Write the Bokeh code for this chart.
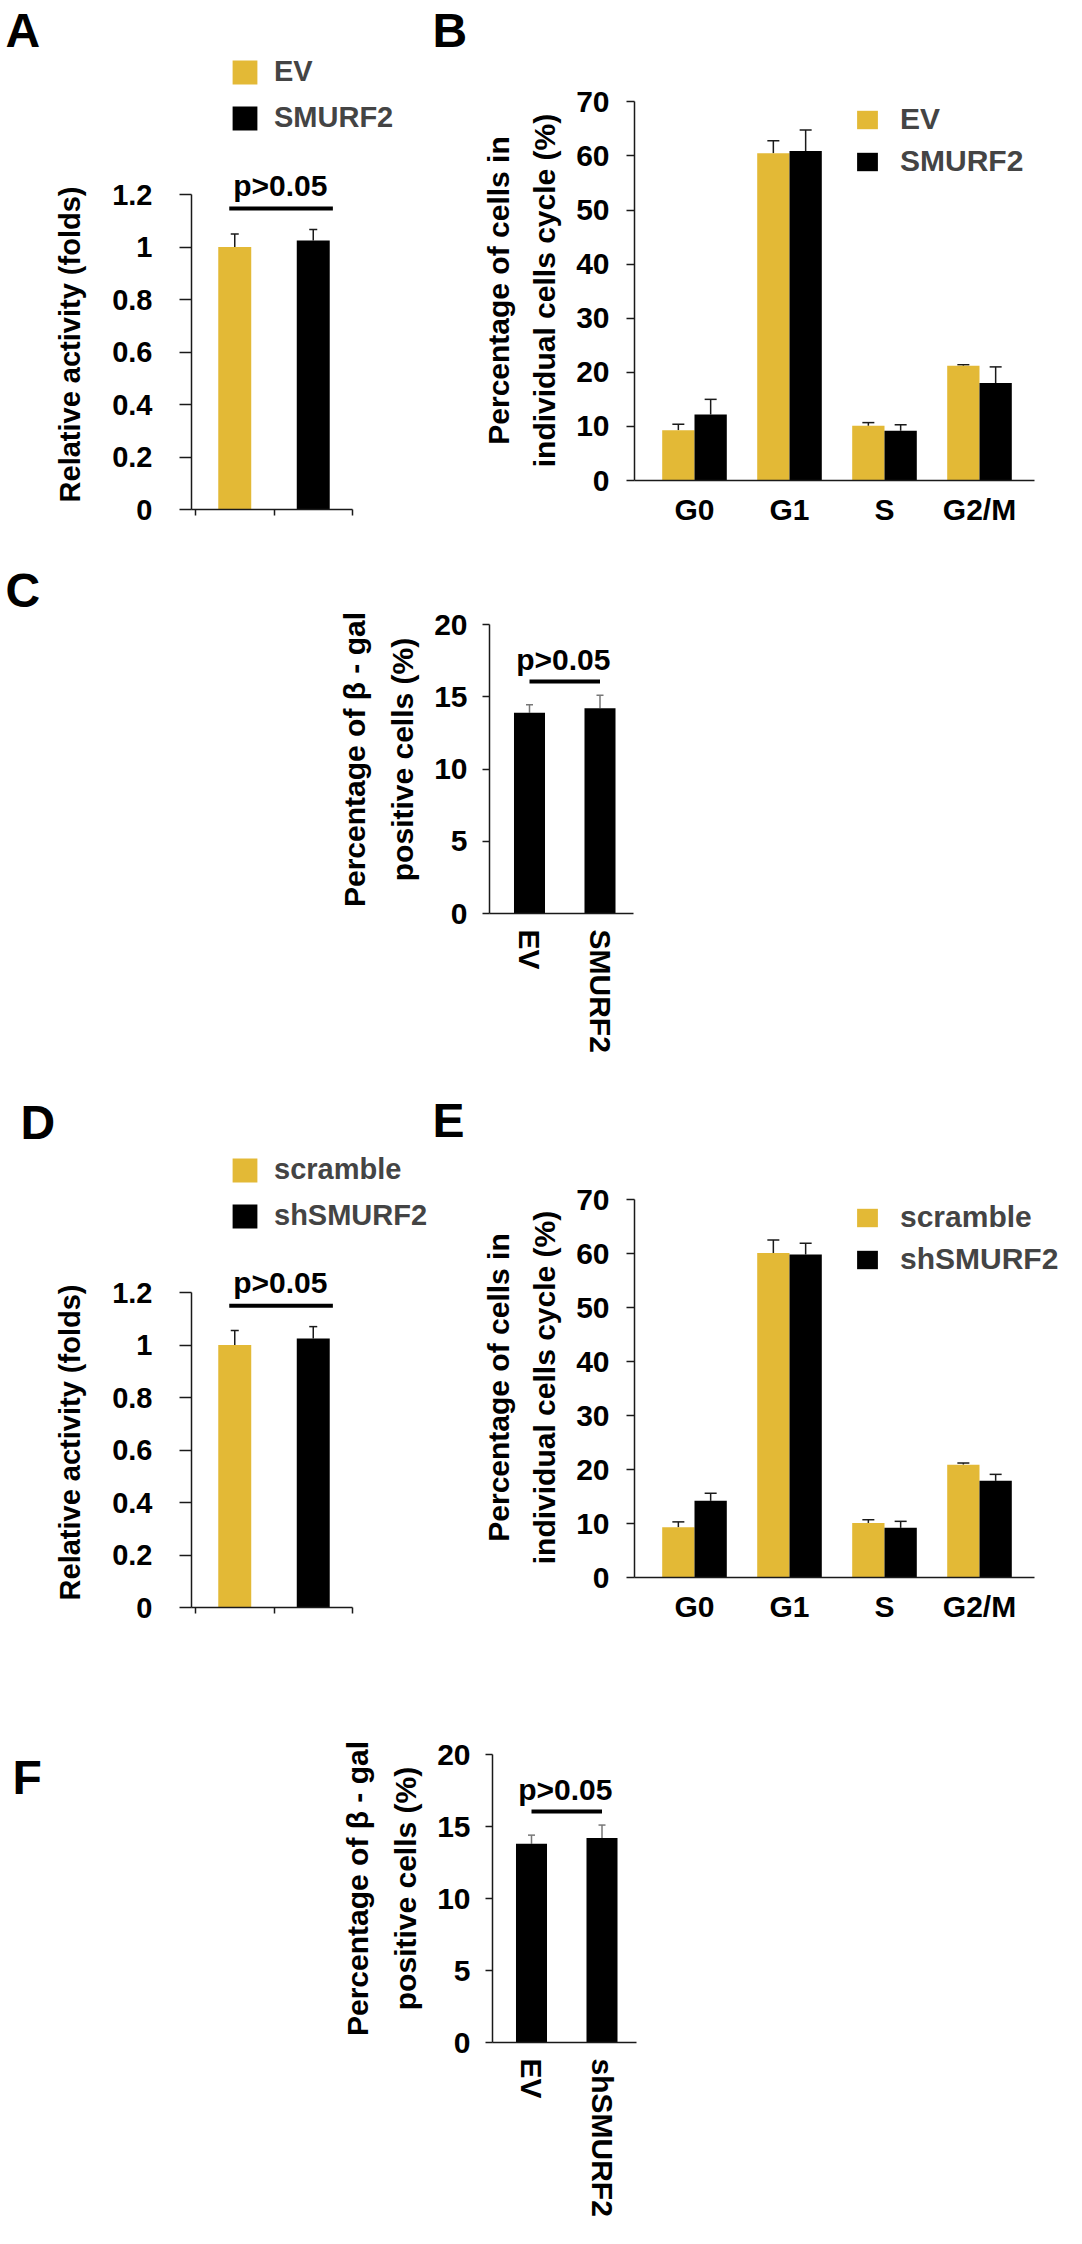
import numpy as np
from bokeh.plotting import figure
from bokeh.layouts import column, row
from bokeh.models import (ColumnDataSource, Range1d, FixedTicker, Legend, LegendItem,
                          Label, Whisker, TeeHead, PrintfTickFormatter)
from bokeh.embed import file_html
from bokeh.resources import INLINE

FONT = "Liberation Sans"
GOLD = "#E3B936"

# ---- data ----
# A: luciferase activity, overexpression
a_groups = ["EV", "SMURF2"]
a_vals = [1.0, 1.025]
a_err = [0.05, 0.042]
a_ticks = [0, 0.2, 0.4, 0.6, 0.8, 1.0, 1.2]

# B: cell cycle, overexpression
phases = ["G0", "G1", "S", "G2/M"]
b_ev = [9.3, 60.5, 10.1, 21.2]
b_ev_err = [1.1, 2.3, 0.6, 0.2]
b_sm = [12.2, 60.9, 9.2, 18.0]
b_sm_err = [2.8, 3.9, 1.1, 3.0]
b_ticks = [0, 10, 20, 30, 40, 50, 60, 70]

# C: beta-gal positive cells, overexpression
c_groups = ["EV", "SMURF2"]
c_vals = [13.9, 14.2]
c_err = [0.55, 0.9]
c_ticks = [0, 5, 10, 15, 20]

# D: luciferase activity, knockdown
d_groups = ["scramble", "shSMURF2"]
d_vals = [1.0, 1.025]
d_err = [0.055, 0.045]

# E: cell cycle, knockdown
e_sc = [9.3, 60.1, 10.1, 20.9]
e_sc_err = [1.0, 2.4, 0.6, 0.3]
e_sh = [14.2, 59.8, 9.2, 17.9]
e_sh_err = [1.4, 2.1, 1.2, 1.2]

# F: beta-gal positive cells, knockdown
f_groups = ["EV", "shSMURF2"]
f_vals = [13.8, 14.2]
f_err = [0.6, 0.9]

P_TEXT = "p>0.05"
BASE_FIX = 0.25   # bokeh sets alphabetic text a little low, lift it by this many em


class Panel:
    # figure whose frame is the whole canvas; cx, cy, x0, y0 are page pixels
    def __init__(self, cx, cy, w, h, x0, xpx, y0, ypx, tick_size):
        self.cx, self.cy, self.w, self.h = cx, cy, w, h
        self.x0, self.xpx, self.y0, self.ypx = x0, xpx, y0, ypx
        p = figure(width=w, height=h,
                   x_range=Range1d((cx - x0) / xpx, (cx + w - x0) / xpx),
                   y_range=Range1d((y0 - cy - h) / ypx, (y0 - cy) / ypx),
                   min_border=0, output_backend="svg", toolbar_location=None)
        p.outline_line_color = None
        p.grid.grid_line_color = None
        for ax in (p.xaxis[0], p.yaxis[0]):
            ax.axis_line_color = "#1a1a1a"
            ax.axis_line_width = 1.5
            ax.major_tick_line_color = "#1a1a1a"
            ax.major_tick_line_width = 1.5
            ax.minor_tick_line_color = None
            ax.major_tick_in = 0
            ax.major_label_text_font = FONT
            ax.major_label_text_font_style = "bold"
            ax.major_label_text_font_size = tick_size
            ax.major_label_text_color = "black"
        p.xaxis.fixed_location = 0
        self.p = p

    def dx(self, px):
        return (px - self.x0) / self.xpx

    def text(self, txt, px, py, size, angle=0.0, align="left", baseline="alphabetic"):
        # px, py: page position
        self.p.add_layout(Label(x=px - self.cx, y=self.cy + self.h - py,
                                x_units="screen", y_units="screen", text=txt, angle=angle,
                                text_font=FONT, text_font_style="bold",
                                text_font_size="%dpx" % size,
                                text_align=align, text_baseline=baseline, text_color="black"))

    def letter(self, txt, px, py, size=48):
        self.text(txt, px, py - BASE_FIX * size, size)

    def vlabel(self, txt, px, py, size):
        self.text(txt, px, py, size, angle=np.pi / 2, align="center", baseline="middle")

    def data_text(self, txt, x, y, size):
        y = y + BASE_FIX * size / self.ypx
        self.p.add_layout(Label(x=x, y=y, text=txt, text_font=FONT, text_font_style="bold",
                                text_font_size="%dpx" % size, text_align="center",
                                text_baseline="alphabetic", text_color="black"))

    def legend(self, items, left, top, gw, gh, spacing, standoff, size, item_h):
        box_h = 2 * item_h + spacing
        leg = Legend(items=[LegendItem(label=l, renderers=[r]) for l, r in items],
                     location=(left - self.cx, self.cy + self.h - top - box_h),
                     glyph_width=gw, glyph_height=gh, spacing=spacing,
                     label_standoff=standoff, padding=0, margin=0, border_line_color=None,
                     background_fill_alpha=0, label_text_font=FONT,
                     label_text_font_style="bold", label_text_font_size="%dpx" % size,
                     label_height=gh)
        self.p.add_layout(leg)


def add_bars(p, xs, vals, errs, color, width, err_color, cap):
    src = ColumnDataSource(dict(x=xs, top=vals, upper=np.add(vals, errs)))
    r = p.vbar(x="x", top="top", bottom=0, width=width, source=src,
               fill_color=color, line_color=None)
    p.add_layout(Whisker(source=src, base="x", lower="top", upper="upper",
                         line_color=err_color, line_width=1.5, lower_head=None,
                         upper_head=TeeHead(size=cap, line_color=err_color, line_width=1.5)))
    return r


def activity_panel(cy, h, y0, groups, vals, errs, letter, letter_pos, leg_top):
    P = Panel(8, cy, 430, h, 203, 78.5, y0, 262.5, "29px")
    p = P.p
    idx = np.arange(len(groups)) + 0.5
    r1 = add_bars(p, idx[:1], vals[:1], errs[:1], GOLD, 0.42, "#1a1a1a", 8)
    r2 = add_bars(p, idx[1:], vals[1:], errs[1:], "black", 0.42, "#1a1a1a", 8)
    p.yaxis.fixed_location = P.dx(199)
    p.yaxis.ticker = FixedTicker(ticks=a_ticks)
    p.yaxis.formatter = PrintfTickFormatter(format="%g")
    p.yaxis.bounds = (0, a_ticks[-1])
    p.yaxis.major_tick_out = 12
    p.yaxis.major_label_standoff = 27
    # category boundary ticks, no labels
    p.xaxis.ticker = FixedTicker(ticks=[], minor_ticks=list(range(len(groups) + 1)))
    p.xaxis.minor_tick_line_color = "#1a1a1a"
    p.xaxis.minor_tick_line_width = 1.5
    p.xaxis.minor_tick_in = 0
    p.xaxis.minor_tick_out = 6
    p.xaxis.bounds = (P.dx(199), len(groups))
    top = max(np.add(vals, errs))
    p.segment(x0=[0.43], x1=[1.75], y0=[top + 0.08], y1=[top + 0.08],
              line_color="black", line_width=4)
    P.data_text(P_TEXT, 1.08, top + 0.14, 30)
    P.legend([(groups[0], r1), (groups[1], r2)], 237, leg_top, 31, 30, 13, 14, 29, 32)
    P.letter(letter, letter_pos[0], letter_pos[1])
    P.vlabel("Relative activity (folds)", 77, y0 - 165, 29)
    return p


def cycle_panel(cy, h, y0, ypx, a, a_err_, b, b_err_, labels, letter, letter_pos, leg_top):
    P = Panel(438, cy, 636, h, 702, 95, y0, ypx, "30px")
    p = P.p
    idx = np.arange(len(phases))
    bw = 0.34
    r1 = add_bars(p, idx - bw / 2, a, a_err_, GOLD, bw, "#1a1a1a", 12)
    r2 = add_bars(p, idx + bw / 2, b, b_err_, "black", bw, "#1a1a1a", 12)
    p.yaxis.fixed_location = P.dx(642)
    p.yaxis.ticker = FixedTicker(ticks=b_ticks)
    p.yaxis.bounds = (0, b_ticks[-1])
    p.yaxis.major_tick_out = 8
    p.yaxis.major_label_standoff = 17
    p.xaxis.ticker = FixedTicker(ticks=list(idx))
    p.xaxis.major_label_overrides = {int(i): s for i, s in zip(idx, phases)}
    p.xaxis.major_tick_line_color = None
    p.xaxis.major_label_standoff = 6
    p.xaxis.bounds = (P.dx(642), P.dx(1042))
    P.legend([(labels[0], r1), (labels[1], r2)], 862, leg_top, 26, 23, 8, 20, 30, 34)
    P.letter(letter, letter_pos[0], letter_pos[1])
    P.vlabel("Percentage of cells in", 506, y0 - 190, 30)
    P.vlabel("individual cells cycle (%)", 552, y0 - 190, 30)
    return p


def gal_panel(cy, h, axis_x, x0, y0, ypx, groups, vals, errs, letter, letter_pos):
    P = Panel(8, cy, 700, h, x0, 70.5, y0, ypx, "30px")
    p = P.p
    idx = np.arange(len(groups))
    add_bars(p, idx, vals, errs, "black", 0.44, "#777777", 7)
    p.yaxis.fixed_location = P.dx(axis_x)
    p.yaxis.ticker = FixedTicker(ticks=c_ticks)
    p.yaxis.bounds = (0, c_ticks[-1])
    p.yaxis.major_tick_out = 7
    p.yaxis.major_label_standoff = 15
    p.xaxis.ticker = FixedTicker(ticks=list(idx))
    p.xaxis.major_label_overrides = {int(i): s for i, s in zip(idx, groups)}
    p.xaxis.major_label_orientation = "vertical"
    p.xaxis.major_tick_line_color = None
    p.xaxis.major_label_standoff = 10
    p.xaxis.bounds = (P.dx(axis_x), P.dx(axis_x + 144))
    top = max(np.add(vals, errs))
    p.segment(x0=[0.0], x1=[1.0], y0=[top + 0.95], y1=[top + 0.95],
              line_color="black", line_width=4)
    P.data_text(P_TEXT, 0.48, top + 1.95, 30)
    P.letter(letter, letter_pos[0], letter_pos[1])
    P.vlabel("Percentage of \u03b2 - gal", axis_x - 135, y0 - 154, 30)
    P.vlabel("positive cells (%)", axis_x - 87, y0 - 154, 30)
    return p


pA = activity_panel(8, 552, 517, a_groups, a_vals, a_err, "A", (13, 50), 65)
pB = cycle_panel(8, 552, 488, 5.41, b_ev, b_ev_err, b_sm, b_sm_err, a_groups, "B", (440, 50), 110)
pC = gal_panel(560, 530, 497, 537, 921, 14.45, c_groups, c_vals, c_err, "C", (13, 610))
pD = activity_panel(1090, 570, 1615, d_groups, d_vals, d_err, "D", (28, 1142), 1163)
pE = cycle_panel(1090, 570, 1585, 5.4, e_sc, e_sc_err, e_sh, e_sh_err, d_groups, "E", (440, 1140), 1208)
pF = gal_panel(1660, 574, 500, 539, 2050, 14.4, f_groups, f_vals, f_err, "F", (20, 1797))

layout = column(row(pA, pB), row(pC), row(pD, pE), row(pF))

with open("out.html", "w") as f:
    f.write(file_html(layout, INLINE))
